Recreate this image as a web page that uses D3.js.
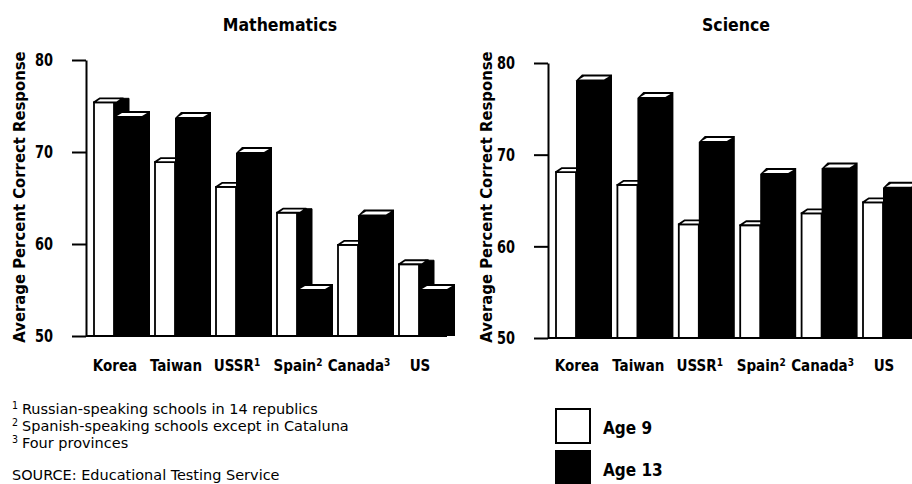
<!DOCTYPE html>
<html>
<head>
<meta charset="utf-8">
<script src="https://cdn.jsdelivr.net/npm/d3@7"></script>
<style>
  html, body { margin: 0; padding: 0; background: #fff; }
  svg { display: block; }
  .cond { font-family: 'DejaVu Sans Condensed', 'DejaVu Sans', sans-serif; font-stretch: condensed; }
</style>
</head>
<body>
<svg id="chart" width="912" height="484"></svg>
<script>
// ---- data ----
const categories = ["Korea", "Taiwan", "USSR", "Spain", "Canada", "US"];
const categoryNotes = ["", "", "1", "2", "3", ""];
const seriesNames = ["Age 9", "Age 13"];
const mathAge9 = [75.4, 68.9, 66.2, 63.4, 59.9, 57.8];
const mathAge13 = [73.9, 73.8, 70.0, 55.1, 63.2, 55.1];
const sciAge9 = [68.1, 66.7, 62.4, 62.3, 63.6, 64.8];
const sciAge13 = [78.2, 76.3, 71.5, 68.0, 68.6, 66.5];
const yTicks = [50, 60, 70, 80];
const panelTitles = ["Mathematics", "Science"];
const yAxisTitle = "Average Percent Correct Response";
const footnotes = [
  ["1", "Russian-speaking schools in 14 republics"],
  ["2", "Spanish-speaking schools except in Cataluna"],
  ["3", "Four provinces"]
];
const sourceText = "SOURCE: Educational Testing Service";

// ---- drawing ----
const svg = d3.select("#chart");

const panels = [
  { title: panelTitles[0], a9: mathAge9, a13: mathAge13, axisX: 86, yTop: 60, yBot: 336,
    bandStart: 94, step: 61, baseEnd: 447, titleX: 280, yTitleX: 25, tickLabelPad: 19 },
  { title: panelTitles[1], a9: sciAge9, a13: sciAge13, axisX: 548, yTop: 63, yBot: 338,
    bandStart: 556, step: 61.4, baseEnd: 912, titleX: 736, yTitleX: 492, tickLabelPad: 19 }
];

const WF = 20;     // white bar front width
const W9 = 35;     // white bar total width incl. side
const W13 = 36;    // black bar total width
const DX = 6, DY = 4;

panels.forEach(p => {
  const g = svg.append("g");
  const y = d3.scaleLinear().domain([50, 80]).range([p.yBot, p.yTop]);
  const x = d3.scaleBand().domain(categories)
    .range([p.bandStart, p.bandStart + p.step * categories.length]).paddingInner(0).paddingOuter(0);

  // title
  g.append("text").attr("class", "cond")
    .attr("x", p.titleX).attr("y", 31)
    .attr("text-anchor", "middle")
    .attr("font-size", 17.5).attr("font-weight", "bold")
    .text(p.title);

  // y axis title
  g.append("text").attr("class", "cond")
    .attr("transform", `translate(${p.yTitleX},197) rotate(-90)`)
    .attr("text-anchor", "middle")
    .attr("font-size", 16.5).attr("font-weight", "bold")
    .text(yAxisTitle);

  // bars
  const bars = g.append("g");
  categories.forEach((c, i) => {
    const x0 = x(c);
    const base = y(50);
    // Age 9 (white) bar
    const t9 = y(p.a9[i]);
    bars.append("path")
      .attr("d", `M${x0 + WF},${t9} L${x0 + WF + DX},${t9 - DY} L${x0 + W9},${t9 - DY} L${x0 + W9},${base} L${x0 + WF},${base} Z`)
      .attr("fill", "#000").attr("stroke", "#000").attr("stroke-width", 1);
    bars.append("rect")
      .attr("x", x0).attr("y", t9).attr("width", WF).attr("height", base - t9)
      .attr("fill", "#fff").attr("stroke", "#000").attr("stroke-width", 1.8);
    bars.append("path")
      .attr("d", `M${x0},${t9} L${x0 + DX},${t9 - DY} L${x0 + WF + DX + 3},${t9 - DY} L${x0 + WF + 3},${t9} Z`)
      .attr("fill", "#fff").attr("stroke", "#000").attr("stroke-width", 1.8).attr("stroke-linejoin", "round");

    // Age 13 (black) bar
    const x1 = x0 + WF;
    const t13 = y(p.a13[i]);
    bars.append("path")
      .attr("d", `M${x1},${t13 + 1} L${x1 + DX},${t13 - DY - 1} L${x1 + W13},${t13 - DY - 1} L${x1 + W13},${base} L${x1},${base} Z`)
      .attr("fill", "#000");
    bars.append("path")
      .attr("d", `M${x1 + 3},${t13} L${x1 + DX + 2},${t13 - DY + 1} L${x1 + W13 - 3},${t13 - DY + 1} L${x1 + W13 - DX - 2},${t13} Z`)
      .attr("fill", "#fff");
  });

  // y axis
  const axis = d3.axisLeft(y).tickValues(yTicks).tickSize(14).tickSizeOuter(0)
    .tickPadding(p.tickLabelPad).tickFormat(d3.format("d"));
  const ag = g.append("g").attr("transform", `translate(${p.axisX},0)`).call(axis);
  ag.selectAll("path, line").attr("stroke", "#000").attr("stroke-width", 2);
  ag.selectAll("text").attr("class", "cond")
    .attr("font-size", 18).attr("font-weight", "bold").attr("fill", "#000")
    .attr("textLength", 18).attr("lengthAdjust", "spacingAndGlyphs");

  // baseline
  g.append("line")
    .attr("x1", p.axisX).attr("x2", p.baseEnd)
    .attr("y1", y(50)).attr("y2", y(50))
    .attr("stroke", "#000").attr("stroke-width", 2.2);

  // category labels
  categories.forEach((c, i) => {
    const t = g.append("text").attr("class", "cond")
      .attr("x", x(c) + 21).attr("y", 371)
      .attr("text-anchor", "middle")
      .attr("font-size", 15).attr("font-weight", "bold");
    t.append("tspan").text(c);
    if (categoryNotes[i]) {
      t.append("tspan").attr("font-size", 10).attr("dy", -5).text(categoryNotes[i]);
    }
  });
});

// footnotes
const fg = svg.append("g").attr("class", "cond");
function stretch(sel, k) {
  const n = sel.node();
  const w = n.getComputedTextLength();
  sel.attr("textLength", w * k).attr("lengthAdjust", "spacingAndGlyphs");
}
footnotes.forEach((f, i) => {
  const by = 414 + i * 17;
  fg.append("text").attr("x", 12).attr("y", by - 5).attr("font-size", 10.5).text(f[0]);
  const t = fg.append("text").attr("x", 22).attr("y", by).attr("font-size", 14.5).text(f[1]);
  stretch(t, 1.11);
});
const st = fg.append("text").attr("x", 12).attr("y", 480).attr("font-size", 14.5).text(sourceText);
stretch(st, 1.11);

// legend
const lg = svg.append("g");
const legendFill = ["#fff", "#000"];
seriesNames.forEach((s, i) => {
  const ly = 409 + i * 42;
  lg.append("rect").attr("x", 556).attr("y", ly).attr("width", 34).attr("height", 34)
    .attr("fill", legendFill[i]).attr("stroke", "#000").attr("stroke-width", 2);
  lg.append("text").attr("class", "cond")
    .attr("x", 603).attr("y", ly + 25)
    .attr("font-size", 17).attr("font-weight", "bold")
    .text(s);
});
</script>
</body>
</html>
